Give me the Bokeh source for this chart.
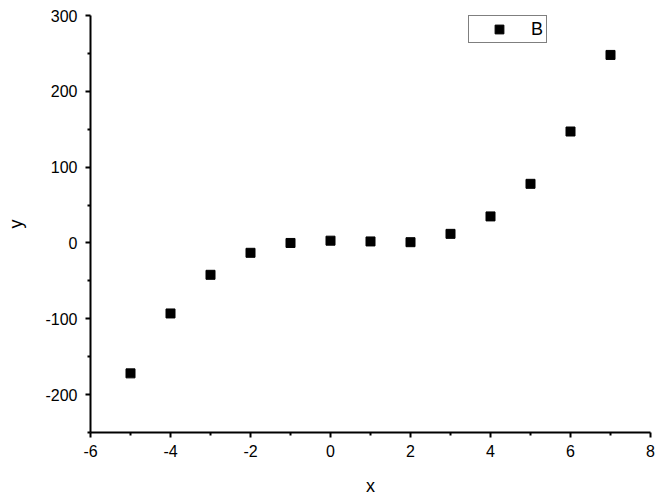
from bokeh.plotting import figure
from bokeh.models import FixedTicker, Range1d, Legend, LegendItem
from bokeh.embed import file_html
from bokeh.resources import INLINE

x_vals = [-5, -4, -3, -2, -1, 0, 1, 2, 3, 4, 5, 6, 7]
y_vals = [-172, -93, -42, -13, 0, 3, 2, 1, 12, 35, 78, 147, 248]
series_name = "B"
x_ticks = [-6, -4, -2, 0, 2, 4, 6, 8]
x_minor = [-5, -3, -1, 1, 3, 5, 7]
y_ticks = [-200, -100, 0, 100, 200, 300]
y_minor = [-250, -150, -50, 50, 150, 250]

FONT = "Liberation Sans"

p = figure(width=672, height=499, output_backend="svg", toolbar_location=None,
           x_range=Range1d(-6, 8), y_range=Range1d(-250, 300),
           min_border_left=90, min_border_right=22, min_border_top=15, min_border_bottom=67)
p.outline_line_color = None
p.xgrid.visible = False
p.ygrid.visible = False
p.background_fill_color = "white"
p.border_fill_color = "white"

r = p.scatter(x_vals, y_vals, marker="square", size=9, fill_color="black", line_color="black")

for ax, ticks, minor in ((p.xaxis[0], x_ticks, x_minor), (p.yaxis[0], y_ticks, y_minor)):
    ax.ticker = FixedTicker(ticks=ticks, minor_ticks=minor)
    ax.major_label_overrides = {t: str(t) for t in ticks}
    ax.axis_line_width = 2
    ax.axis_line_color = "black"
    ax.major_tick_line_width = 2
    ax.minor_tick_line_width = 2
    ax.major_tick_in = 0
    ax.major_tick_out = 5
    ax.minor_tick_in = 0
    ax.minor_tick_out = 3
    ax.major_label_text_font = FONT
    ax.major_label_text_font_size = "16px"
    ax.major_label_text_color = "black"
    ax.axis_label_text_font = FONT
    ax.axis_label_text_font_size = "18px"
    ax.axis_label_text_font_style = "normal"
    ax.axis_label_text_color = "black"

p.xaxis.axis_label = "x"
p.yaxis.axis_label = "y"
p.xaxis.major_label_standoff = 7
p.xaxis.axis_label_standoff = 16
p.yaxis.major_label_standoff = 8
p.yaxis.axis_label_standoff = 16

legend = Legend(items=[LegendItem(label=series_name, renderers=[r])],
                location=(378, 389), padding=2, margin=0, spacing=0,
                glyph_width=56, glyph_height=22, label_standoff=4, label_width=13,
                border_line_color="black", border_line_width=1,
                label_text_font=FONT, label_text_font_size="18px",
                label_text_color="black",
                background_fill_alpha=1.0)
p.add_layout(legend)

open("out.html", "w").write(file_html(p, INLINE))
